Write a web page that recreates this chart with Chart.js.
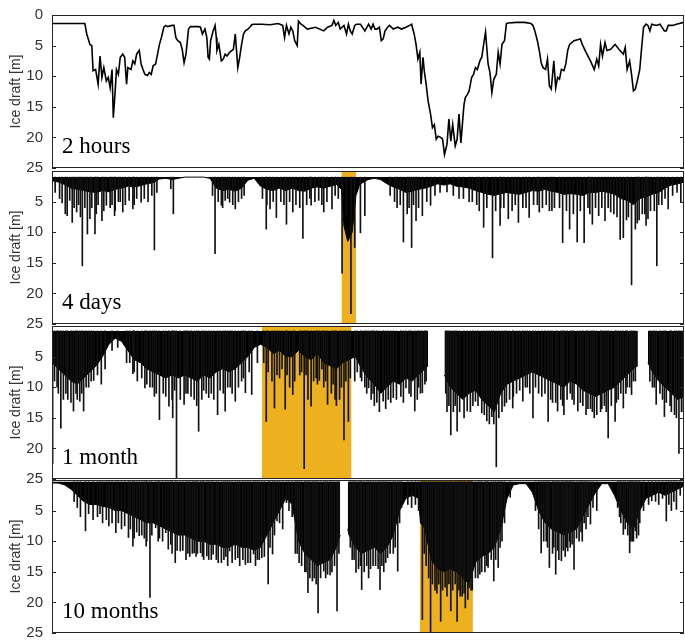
<!DOCTYPE html>
<html>
<head>
<meta charset="utf-8">
<title>Ice draft records</title>
<script src="https://cdn.jsdelivr.net/npm/chart.js@4.4.1/dist/chart.umd.min.js"></script>
<style>
  body { margin: 0; background: #fff; }
  #wrap { position: relative; width: 685px; height: 640px; overflow: hidden; }
  #wrap canvas { position: absolute; left: 0; }
</style>
</head>
<body>
<div id="wrap">
  <canvas id="p1" width="685"></canvas>
  <canvas id="p2" width="685"></canvas>
  <canvas id="p3" width="685"></canvas>
  <canvas id="p4" width="685"></canvas>
</div>
<script>
// --- data (x = % of record length, y = ice draft in m) ---
const yTicks = [0, 5, 10, 15, 20, 25];
const panelLabels = ['2 hours', '4 days', '1 month', '10 months'];

// highlighted sub-window shown in the panel above
const highlight4Days = [45.8, 48.1];
const highlight1Month = [33.2, 47.4];
const highlight10Months = [58.2, 66.6];

// draft where the dense records start
const surface4Days = 1.0;
const surface1Month = 0.8;
const surface10Months = 0.3;

const draftHours = [
  [0,1.4],[5.2,1.4],[5.5,3.1],[6.0,4.8],[6.3,5.0],[6.5,9.1],[6.9,8.9],[7.3,11.3],[7.6,6.7],[7.9,10.2],
  [8.2,8.6],[8.6,10.8],[8.9,10.2],[9.2,11.9],[9.5,8.9],[9.7,16.8],[10.0,12.4],[10.2,8.9],[10.5,9.7],[10.8,6.9],
  [11.2,6.4],[11.5,6.9],[11.8,11.3],[12.0,8.6],[12.5,8.9],[12.8,7.5],[13.1,8.0],[13.4,6.4],[13.8,5.8],[14.1,8.0],
  [14.4,8.9],[14.7,9.7],[15.1,9.9],[15.4,9.4],[15.7,9.7],[16.0,8.3],[16.4,8.0],[16.7,6.4],[17.0,4.8],[17.3,3.7],
  [17.7,2.0],[18.0,1.7],[18.3,1.9],[19.0,1.7],[19.3,1.7],[19.6,3.7],[19.9,4.2],[20.3,4.5],[20.6,5.6],[20.9,7.8],
  [21.2,6.4],[21.6,2.3],[21.9,1.9],[22.5,1.9],[23.2,1.9],[23.5,2.0],[23.8,3.1],[24.2,2.3],[24.5,3.7],[24.7,6.9],
  [24.9,7.2],[25.1,4.2],[25.5,2.6],[25.8,1.7],[26.0,3.7],[26.1,5.8],[26.4,4.8],[26.8,7.5],[27.1,7.2],[27.4,6.4],
  [27.7,6.7],[28.1,6.1],[28.7,5.6],[29.0,3.1],[29.4,8.6],[29.7,6.9],[30.0,4.8],[30.3,3.1],[30.6,2.6],[31.0,2.3],
  [31.3,2.0],[31.6,1.6],[31.9,1.5],[33.2,1.5],[34.5,1.6],[35.8,1.4],[36.5,1.7],[36.8,3.7],[37.1,1.7],[37.5,3.1],
  [37.8,2.0],[38.1,2.6],[38.4,4.2],[38.8,5.0],[39.0,1.0],[39.4,1.5],[39.7,1.7],[40.4,2.3],[41.7,2.0],[43.0,2.6],
  [43.6,2.0],[44.3,1.7],[44.6,0.9],[44.9,1.7],[45.3,1.2],[45.6,2.3],[46.2,1.7],[46.6,3.1],[46.9,1.5],[47.2,2.6],
  [47.5,3.1],[47.9,1.7],[48.2,1.5],[48.8,1.5],[49.5,2.6],[50.1,1.5],[50.5,2.3],[50.8,1.5],[51.1,2.3],[51.4,2.3],
  [51.8,2.0],[52.1,4.2],[52.4,3.9],[52.7,2.6],[53.1,2.0],[53.4,1.7],[54.0,2.3],[54.7,2.0],[55.3,2.3],[56.0,2.0],
  [56.6,1.7],[56.9,1.5],[57.3,3.1],[57.6,4.8],[57.9,7.2],[58.2,6.1],[58.4,11.3],[58.7,6.9],[58.9,9.1],[59.2,11.3],
  [59.5,14.0],[59.9,16.2],[60.2,18.4],[60.5,17.9],[60.8,20.3],[61.1,19.8],[61.5,20.0],[61.8,20.3],[62.1,22.8],[62.5,21.1],
  [62.8,17.0],[63.1,20.6],[63.4,17.9],[63.8,21.4],[64.1,20.3],[64.4,16.2],[64.7,20.9],[65.1,15.7],[65.2,14.6],[65.4,13.5],
  [65.7,13.0],[66.0,12.4],[66.4,10.2],[66.7,9.7],[67.0,8.6],[67.3,8.9],[67.7,7.5],[68.0,6.9],[68.3,4.8],[68.6,2.8],
  [69.0,8.0],[69.3,9.4],[69.6,12.7],[69.9,10.5],[70.3,9.7],[70.6,6.1],[70.9,8.0],[71.2,4.8],[71.6,4.2],[71.9,1.4],
  [72.2,1.3],[73.5,1.2],[74.8,1.2],[75.8,1.4],[76.1,1.7],[76.4,2.6],[76.8,4.2],[77.1,5.8],[77.4,7.8],[77.7,8.6],
  [78.1,8.9],[78.4,7.2],[78.7,11.6],[79.0,12.1],[79.4,7.5],[79.7,11.9],[80.0,10.2],[80.3,10.5],[80.6,8.9],[81.0,9.1],
  [81.3,8.0],[81.6,5.8],[81.9,4.8],[82.6,4.2],[83.6,3.9],[83.9,4.8],[84.5,6.1],[85.2,7.5],[85.8,8.9],[86.2,7.2],
  [86.5,8.3],[86.8,4.8],[87.1,6.7],[87.5,4.5],[87.8,5.8],[88.4,5.6],[89.1,4.8],[89.7,5.6],[90.4,6.4],[90.7,5.3],
  [91.0,8.9],[91.4,7.5],[91.7,9.7],[92.0,12.4],[92.3,12.1],[92.6,10.8],[93.0,8.9],[93.3,5.3],[93.6,2.0],[94.0,1.5],
  [94.3,1.7],[94.6,2.6],[94.9,1.5],[95.6,1.7],[96.2,1.5],[96.9,2.6],[97.2,2.6],[97.5,1.7],[98.2,1.7],[98.8,1.5],[100,1.2]
];

// dense core of the 4-day record and its deeper keels
const core4Days = [
  [0,1.6],[1,1.8],[2,2.2],[3,2.8],[4,3.0],[5,3.2],[6,3.4],[7,3.5],[8,3.2],[9,3.4],[10,3.0],[11,2.8],[12,2.5],
  [13,2.6],[14,2.4],[15,2.1],[16,1.9],[17,1.3],[18,1.2],[19,1.4],[20,1.2],[21,1.0],[22,1.0],[23,1.0],[24,1.0],
  [25,1.2],[26,2.8],[27,3.2],[28,3.0],[29,3.3],[30,2.8],[31,1.5],[32,1.2],[33,2.5],[34,3.0],[35,3.2],[36,2.8],
  [37,3.2],[38,2.8],[39,3.2],[40,3.3],[41,2.8],[42,2.6],[43,2.8],[44,2.5],[45,2.2],[45.8,3.0],[46.2,9.0],
  [46.8,11.5],[47.5,10.0],[48.1,4.0],[48.6,2.5],[49,2.0],[50,1.4],[51,1.2],[52,1.4],[53,2.1],[54,2.6],[55,3.0],
  [56,3.5],[57,3.3],[58,3.0],[59,2.8],[60,2.5],[61,2.1],[62,2.3],[63,2.1],[64,2.5],[65,2.6],[66,2.8],[67,3.2],
  [68,3.5],[69,3.8],[70,4.0],[71,3.7],[72,3.5],[73,3.7],[74,3.8],[75,3.5],[76,3.2],[77,3.3],[78,3.0],[79,3.3],
  [80,3.5],[81,3.8],[82,3.7],[83,3.8],[84,4.0],[85,3.5],[86,3.5],[87,3.3],[88,3.5],[89,3.8],[90,4.5],[91,4.8],
  [92,5.5],[93,4.5],[94,4.2],[95,3.8],[96,3.5],[97,2.8],[98,2.3],[99,2.1],[100,1.8]
];
const keels4Days = [
  [0.5,3.5],[1.2,4.5],[1.6,5.2],[2.1,7.0],[2.4,7.3],[2.8,4.8],[3.2,8.4],[3.5,6.0],[3.9,6.7],[4.2,5.5],[4.5,7.5],
  [4.8,15.5],[5.2,6.0],[5.6,10.3],[6.0,7.8],[6.3,6.0],[6.8,10.3],[7.0,7.0],[7.3,5.5],[7.9,8.1],[8.2,6.5],[8.6,5.6],
  [9.2,6.0],[9.5,5.5],[9.9,7.3],[10.0,6.5],[10.5,5.0],[10.8,5.0],[11.2,6.7],[11.6,5.5],[12.2,4.8],[12.8,6.2],[13.0,5.5],
  [13.4,4.5],[14.1,5.1],[14.6,4.5],[15.2,5.0],[15.8,4.0],[16.2,12.9],[16.6,3.5],[18.8,2.9],[19.2,7.0],[25.4,4.0],
  [25.8,13.5],[26.3,5.0],[26.8,5.6],[27.0,6.0],[27.4,4.8],[27.8,4.5],[28.1,5.1],[28.6,5.5],[29.0,6.2],[29.5,5.0],
  [30.0,4.5],[30.4,4.0],[33.3,4.5],[33.9,9.5],[34.0,5.5],[34.5,6.2],[35.0,5.0],[35.5,7.6],[36.2,5.0],[36.7,5.5],
  [37.1,8.7],[37.6,5.0],[38.1,6.7],[38.6,5.5],[39.2,6.0],[39.7,11.0],[40.3,5.5],[40.8,4.5],[41.0,5.6],[41.6,5.0],
  [42.2,4.8],[42.7,5.5],[43.0,6.7],[43.5,5.0],[44.3,6.2],[44.8,4.0],[45.3,4.5],[45.9,16.7],[46.6,7.3],[47.3,23.3],
  [47.9,12.5],[48.8,10.1],[49.5,7.3],[53.5,4.0],[54.2,5.0],[54.6,6.0],[55.1,5.5],[55.6,11.6],[56.2,7.0],[56.5,6.0],
  [56.9,12.5],[57.2,5.5],[57.6,8.1],[58.0,6.0],[58.6,7.3],[59.3,5.0],[59.9,5.6],[60.6,4.0],[61.4,3.5],[62.5,3.4],
  [63.5,4.0],[64.4,4.5],[65.1,4.5],[66.0,5.0],[66.5,5.0],[67.2,5.5],[67.6,6.5],[68.3,9.2],[68.8,6.0],[69.7,14.2],
  [70.2,6.5],[70.9,8.9],[71.0,6.0],[71.5,6.0],[72.2,7.8],[72.8,6.5],[73.3,5.5],[73.8,8.4],[74.5,6.0],[75.0,6.0],
  [75.5,7.6],[76.2,5.5],[76.8,5.5],[77.1,6.7],[77.6,6.0],[78.2,5.5],[78.7,6.5],[79.1,6.5],[79.5,6.0],[80.3,6.0],
  [80.8,11.7],[81.4,6.5],[81.9,9.5],[82.5,7.0],[83.1,11.6],[83.6,6.5],[84.2,11.7],[84.8,6.0],[85.1,7.0],[85.5,8.7],
  [86.0,6.0],[86.5,7.3],[87.0,6.0],[87.5,8.1],[88.0,6.0],[88.4,6.7],[88.9,7.0],[89.4,7.5],[89.9,11.2],[90.4,10.9],
  [90.9,8.0],[91.2,7.5],[91.7,18.6],[92.3,9.5],[92.6,8.5],[92.9,8.0],[93.4,7.0],[93.8,7.0],[94.0,8.9],[94.3,7.8],
  [94.7,6.5],[95.3,6.5],[95.7,15.5],[96.0,5.5],[96.5,5.5],[97.0,4.5],[97.5,6.2],[98.2,4.0],[98.9,3.5],[99.5,5.1]
];

const core1Month = [
  [0,6.0],[1,7.0],[2,8.0],[3,9.0],[4,9.5],[5,8.5],[6,7.5],[7,6.5],[8,5.0],[9,3.0],[10,2.0],[11,2.5],[12,4.0],
  [13,5.5],[14,6.0],[15,7.0],[16,7.5],[17,8.0],[18,8.5],[19,8.0],[20,8.5],[21,8.0],[22,8.5],[23,9.0],[24,8.0],
  [25,8.5],[26,7.5],[27,7.0],[28,7.5],[29,7.0],[30,6.0],[31,5.0],[32,3.5],[33,3.0],[34,3.5],[35,4.5],[36,4.0],
  [37,5.0],[38,5.0],[39,4.0],[40,5.0],[41,5.5],[42,4.5],[43,6.0],[44,6.5],[45,7.0],[46,6.0],[47,5.5],[48,5.0],
  [49,7.0],[50,8.5],[51,9.5],[52,11.0],[53,10.0],[54,9.0],[55,9.5],[56,8.5],[57,9.0],[58,8.0],[59,7.0],[59.5,6.5],
  [60.8,null],[62.1,8.0],[63,10.0],[64,11.0],[65,12.0],[66,11.0],[67,10.5],[68,12.0],[69,13.0],[70,14.0],[71,11.0],
  [72,9.5],[73,9.0],[74,8.5],[75,8.0],[76,7.5],[77,8.0],[78,8.5],[79,9.0],[80,9.5],[81,10.0],[82,9.0],[83,9.5],
  [84,10.5],[85,11.0],[86,11.5],[87,11.0],[88,10.5],[89,10.0],[90,9.0],[91,8.0],[92,7.0],[92.7,6.5],[93.5,null],
  [94.3,6.0],[95,7.5],[96,9.0],[97,10.0],[98,11.0],[99,12.0],[100,11.5]
];
const keels1Month = [
  [0.1,22.5],[0.4,9.0],[0.8,10.0],[1.0,11.0],[1.4,16.7],[1.8,12.0],[2.2,11.0],[2.5,12.0],[3.0,12.5],[3.4,13.9],
  [3.8,11.0],[4.0,12.0],[4.4,12.3],[4.7,11.0],[5.0,13.9],[5.4,10.0],[5.8,10.0],[6.2,9.0],[6.6,8.9],[7.2,8.0],
  [7.8,9.5],[8.4,7.0],[9.5,4.0],[10.4,3.5],[11.8,6.0],[12.3,6.0],[12.8,7.8],[13.0,7.5],[13.5,9.0],[14.2,8.5],
  [14.7,10.1],[15.0,9.5],[15.5,10.0],[15.9,10.0],[16.2,11.5],[16.5,11.0],[17.0,15.3],[17.6,11.0],[18.0,11.5],[18.5,13.1],
  [19.0,12.0],[19.1,15.0],[19.4,10.5],[19.7,25.0],[20.3,12.0],[20.9,12.8],[21.2,11.0],[21.5,11.0],[22.0,11.5],[22.5,12.0],
  [22.9,13.0],[23.2,17.2],[23.7,12.0],[24.0,10.5],[24.4,11.0],[24.8,11.7],[25.2,11.0],[25.6,12.0],[26.2,14.5],[26.6,10.5],
  [27.1,11.0],[27.4,13.9],[27.8,10.0],[28.2,10.0],[28.5,11.0],[29.0,12.3],[29.5,10.0],[30.0,9.0],[30.3,8.5],[30.6,10.9],
  [31.2,7.5],[31.6,11.2],[32.5,6.0],[33.5,6.0],[33.9,15.6],[34.2,7.5],[34.8,9.0],[35.2,13.4],[35.6,8.0],[36.0,8.5],
  [36.4,7.0],[36.9,13.6],[37.2,8.0],[37.6,10.0],[38.1,11.2],[38.4,9.0],[39.2,8.0],[39.5,7.5],[39.9,23.3],[40.2,8.0],
  [40.5,12.0],[41.0,13.1],[41.4,9.0],[41.8,8.5],[42.0,9.5],[42.3,8.9],[42.7,7.0],[43.0,10.0],[43.3,9.0],[43.6,12.8],
  [44.2,11.0],[44.5,9.5],[44.8,12.0],[45.0,13.0],[45.5,12.0],[45.8,10.0],[46.2,18.6],[46.5,9.0],[46.9,15.6],[47.2,8.5],
  [47.9,9.0],[48.3,7.5],[48.8,8.4],[49.0,9.0],[49.5,10.0],[49.8,11.0],[50.1,10.1],[50.5,12.0],[50.8,11.0],[51.0,13.0],
  [51.4,12.5],[51.8,14.0],[52.4,12.3],[52.8,13.5],[53.2,12.0],[53.6,12.5],[54.0,11.7],[54.5,12.0],[55.2,11.5],[55.6,12.5],
  [56.0,10.1],[56.5,11.0],[56.8,11.5],[57.4,13.9],[57.8,12.0],[58.0,10.0],[58.3,11.0],[58.6,10.9],[59.0,9.5],[59.2,9.0],
  [62.3,11.0],[62.5,14.0],[62.8,13.0],[63.1,17.8],[63.5,14.0],[63.8,13.0],[64.1,17.2],[64.5,14.0],[65.2,15.0],[65.7,13.9],
  [66.2,14.0],[66.6,13.0],[67.0,12.3],[67.4,13.0],[68.0,14.2],[68.4,14.5],[68.8,15.5],[69.2,16.0],[69.6,14.8],[69.9,16.0],
  [70.3,23.0],[70.7,15.0],[71.2,14.0],[71.6,13.1],[71.9,12.5],[72.4,12.0],[72.9,13.4],[73.0,11.5],[73.5,11.0],[74.0,10.5],
  [74.5,12.3],[74.9,10.0],[75.2,10.0],[75.6,11.0],[76.1,15.0],[76.5,10.0],[77.0,11.0],[77.5,11.5],[78.0,11.0],[78.5,15.6],
  [78.9,12.0],[79.2,12.5],[79.7,12.5],[80.0,13.9],[80.5,12.0],[80.8,13.0],[81.0,14.5],[81.5,12.0],[82.0,11.0],[82.3,12.0],
  [82.6,12.8],[83.2,13.9],[83.6,12.5],[84.0,13.0],[84.5,14.5],[84.8,13.5],[85.2,13.5],[85.5,14.0],[85.8,15.0],[86.2,14.5],
  [86.8,14.0],[87.0,13.5],[87.4,13.0],[87.7,14.0],[88.0,18.3],[88.5,13.0],[89.1,15.6],[89.3,12.5],[89.6,12.0],[90.0,11.0],
  [90.4,13.4],[90.8,11.0],[91.0,10.0],[91.4,10.0],[91.7,11.2],[92.0,9.0],[92.3,9.0],[94.6,9.0],[95.0,10.0],[95.3,10.0],
  [95.6,12.8],[96.2,11.0],[96.6,12.0],[96.9,14.8],[97.2,12.5],[97.8,13.0],[98.0,14.0],[98.5,14.5],[98.8,15.0],[99.2,20.8],
  [99.6,14.0],[99.9,14.0]
];

const core10Months = [
  [0,0.5],[1,0.5],[2,0.8],[3,1.5],[4,2.5],[5,3.5],[6,4.0],[7,4.0],[8,4.3],[9,4.5],[10,5.0],[11,5.0],[12,5.5],
  [13,6.0],[14,6.5],[15,7.0],[16,7.0],[17,7.5],[18,8.0],[19,8.5],[20,9.0],[21,9.0],[22,9.5],[23,10.0],[24,10.0],
  [25,10.5],[26,10.5],[27,11.0],[28,11.0],[29,10.5],[30,11.0],[31,11.0],[32,11.5],[33,11.0],[34,9.0],[35,7.0],
  [36,5.0],[37,3.0],[38,4.0],[39,10.0],[40,12.0],[41,13.0],[42,14.0],[43,13.5],[44,13.0],[45,11.0],[45.6,9.0],
  [46.2,null],[46.8,8.0],[47,9.0],[48,11.0],[49,12.0],[50,11.5],[51,11.0],[52,12.0],[53,11.0],[54,9.0],[55,5.0],
  [56,3.0],[57,2.5],[58,3.0],[58.3,7.0],[59,8.0],[60,13.0],[61,14.5],[62,15.0],[63,14.5],[64,15.0],[65,16.0],
  [66,17.0],[67,13.5],[68,12.5],[69,12.0],[70,11.0],[71,8.0],[72,3.0],[73,0.8],[74,0.6],[75,0.6],[76,2.0],[77,5.0],
  [78,7.0],[79,8.0],[80,8.5],[81,9.0],[82,8.5],[83,8.0],[84,6.0],[85,4.0],[86,2.0],[87,0.6],[88,0.6],[89,2.5],
  [90,5.0],[91,7.0],[92,8.0],[93,5.0],[94,3.0],[95,2.5],[96,2.0],[97,2.5],[98,2.0],[99,1.5],[100,1.0]
];
const keels10Months = [
  [3.5,3.5],[4.0,4.5],[4.5,6.0],[5.3,8.3],[5.8,5.5],[6.5,6.5],[7.2,6.0],[7.6,5.5],[8.0,7.0],[8.6,6.5],[9.0,7.5],
  [9.5,7.0],[10.1,8.6],[10.5,7.0],[11.0,8.0],[11.5,7.5],[12.1,9.4],[12.4,8.0],[12.8,10.8],[13.0,9.5],[13.4,8.5],
  [13.8,9.1],[14.2,9.0],[14.6,9.5],[14.9,10.8],[15.0,10.0],[15.5,19.2],[15.8,9.0],[16.4,7.8],[16.8,10.0],[17.0,9.5],
  [17.5,10.0],[18.0,8.6],[18.4,11.3],[18.8,10.5],[19.0,12.0],[19.5,13.5],[19.8,11.5],[20.3,11.6],[20.7,11.5],[21.2,13.0],
  [21.5,12.0],[21.8,12.5],[22.2,12.0],[22.5,11.9],[22.8,12.5],[23.0,12.0],[23.5,11.9],[23.8,12.5],[24.0,13.0],[24.5,12.4],
  [24.8,13.0],[25.2,13.0],[25.5,12.1],[26.0,13.0],[26.3,13.5],[26.8,13.5],[27.2,13.0],[27.5,12.5],[27.8,14.0],[28.1,11.6],
  [28.5,13.5],[29.0,13.0],[29.4,12.7],[29.7,14.0],[30.2,13.0],[30.6,13.8],[31.0,13.5],[31.4,13.5],[31.9,12.1],[32.2,14.0],
  [32.5,13.0],[32.8,13.0],[33.2,12.7],[33.6,12.5],[34.2,17.0],[34.5,11.0],[34.9,12.1],[35.2,9.0],[35.6,6.7],[36.0,7.0],
  [36.5,8.0],[37.1,3.7],[37.5,5.0],[38.0,6.0],[38.5,12.0],[38.8,12.0],[39.1,13.5],[39.5,14.0],[40.0,15.0],[40.2,15.0],
  [40.5,18.4],[40.8,16.0],[41.2,16.5],[41.5,16.0],[41.8,17.0],[42.1,21.7],[42.5,16.0],[43.0,14.9],[43.3,16.0],[43.6,15.4],
  [44.0,15.5],[44.3,15.0],[44.7,14.0],[45.1,21.4],[45.4,12.0],[47.2,11.0],[47.5,13.0],[47.8,13.0],[48.1,15.1],[48.5,14.5],
  [48.8,14.0],[49.0,17.9],[49.4,15.0],[49.8,14.0],[50.1,16.0],[50.4,14.5],[50.8,14.0],[51.2,14.0],[51.6,14.5],[51.9,17.9],
  [52.2,14.0],[52.5,15.0],[52.8,13.5],[53.1,12.7],[53.5,12.0],[54.0,12.0],[54.3,11.0],[54.7,14.9],[55.0,7.0],[55.3,4.5],
  [56.3,4.0],[56.9,4.5],[57.5,4.0],[58.0,5.0],[58.6,22.8],[58.9,12.0],[59.2,14.0],[59.6,16.0],[59.9,25.0],[60.2,17.0],
  [60.6,18.0],[60.9,18.5],[61.2,17.0],[61.5,23.1],[61.8,18.0],[62.2,17.5],[62.5,19.0],[62.8,17.0],[63.1,21.4],[63.4,18.0],
  [63.8,17.0],[64.1,23.1],[64.4,18.0],[64.6,19.0],[64.9,19.0],[65.2,18.5],[65.4,20.9],[65.8,19.5],[66.0,17.6],[66.3,18.0],
  [66.5,18.0],[67.0,16.0],[67.4,16.0],[67.7,15.4],[68.0,15.0],[68.5,15.0],[68.8,14.0],[69.0,14.3],[69.5,13.0],[69.9,16.5],
  [70.2,13.0],[70.6,14.3],[70.9,11.0],[71.2,10.0],[71.6,7.0],[72.5,2.8],[76.5,5.0],[77.0,8.0],[77.4,11.9],[77.8,10.0],
  [78.2,10.0],[78.4,11.0],[78.7,14.3],[79.2,12.0],[79.4,11.0],[79.7,15.4],[80.0,11.5],[80.2,13.0],[80.6,13.2],[80.9,11.5],
  [81.2,12.5],[81.4,11.0],[81.6,11.6],[81.9,10.0],[82.0,11.0],[82.3,10.5],[82.6,14.6],[83.0,9.5],[83.4,10.0],[83.7,8.5],
  [83.9,10.0],[84.2,7.0],[84.5,8.0],[84.8,6.0],[85.2,7.2],[85.6,4.5],[86.2,5.0],[89.5,4.5],[89.8,6.0],[90.0,7.0],
  [90.4,8.9],[90.7,8.0],[91.1,9.0],[91.4,11.9],[91.6,10.0],[91.8,10.0],[92.0,10.0],[92.3,8.3],[92.5,9.5],[92.8,9.0],
  [93.0,7.0],[93.6,5.0],[94.4,4.0],[94.9,3.4],[95.5,3.5],[96.0,4.0],[96.6,3.0],[97.2,6.7],[97.6,4.0],[98.0,5.0],
  [98.4,3.5],[98.8,4.8],[99.4,2.5]
];

// --- styling / layout ---
const ORANGE = '#EDB120';
const INK = '#262626';
const SANS = '"Liberation Sans", Arial, sans-serif';
const SERIF = '"Liberation Serif", "Times New Roman", serif';
const plotAreas = [[15, 168], [171, 324], [326, 479], [480, 633]];
const PAD = 20;

const toPoints = arr => arr.map(([x, y]) => ({ x, y }));

function highlightSet(range) {
    return {
        type: 'line',
        data: [{ x: range[0], y: 25 }, { x: range[1], y: 25 }],
        borderWidth: 0,
        pointRadius: 0,
        backgroundColor: ORANGE,
        fill: { value: 0 },
        order: 3
    };
}

function coreSet(core, surface) {
    return {
        type: 'line',
        data: toPoints(core),
        borderColor: '#000',
        borderWidth: 1,
        pointRadius: 0,
        tension: 0,
        spanGaps: false,
        backgroundColor: '#000',
        fill: { value: surface },
        order: 2
    };
}

function keelSet(keels, surface) {
    return {
        type: 'bar',
        data: keels.map(([x, d]) => ({ x, y: [surface, d] })),
        backgroundColor: '#111',
        borderWidth: 0,
        barThickness: 1,
        grouped: false,
        order: 1
    };
}

// рамка, внутренние засечки и подпись панели
const framePlugin = {
    id: 'frame',
    afterDraw(chart, args, opts) {
        const { ctx, chartArea: a, scales: { y } } = chart;
        ctx.save();
        ctx.strokeStyle = INK;
        ctx.lineWidth = 1;
        ctx.strokeRect(a.left + 0.5, a.top + 0.5, a.right - a.left - 1, a.bottom - a.top - 1);
        ctx.beginPath();
        yTicks.forEach(v => {
            const py = Math.round(y.getPixelForValue(v)) + 0.5;
            ctx.moveTo(a.left, py); ctx.lineTo(a.left + 4, py);
            ctx.moveTo(a.right, py); ctx.lineTo(a.right - 4, py);
        });
        ctx.stroke();
        ctx.fillStyle = '#000';
        ctx.font = '23px ' + SERIF;
        ctx.textBaseline = 'alphabetic';
        ctx.fillText(opts.text, a.left + 10, a.bottom - 15);
        ctx.restore();
    }
};

function makePanel(i, datasets) {
    const [top, bottom] = plotAreas[i];
    const canvas = document.getElementById('p' + (i + 1));
    canvas.height = bottom - top + 2 * PAD;
    canvas.style.top = (top - PAD) + 'px';
    const hideZero = i > 0;

    new Chart(canvas, {
        type: 'line',
        data: { datasets },
        options: {
            responsive: false,
            animation: false,
            events: [],
            layout: { padding: { top: PAD, bottom: PAD, left: 0, right: 1 } },
            plugins: {
                legend: { display: false },
                tooltip: { enabled: false },
                frame: { text: panelLabels[i] }
            },
            scales: {
                x: { type: 'linear', min: 0, max: 100, display: false, offset: false, grid: { offset: false } },
                y: {
                    type: 'linear',
                    reverse: true,
                    min: 0,
                    max: 25,
                    afterFit(s) { s.width = 52; },
                    afterBuildTicks(s) {
                        s.ticks = yTicks.filter(v => !(hideZero && v === 0)).map(v => ({ value: v }));
                    },
                    grid: { display: false, drawTicks: false },
                    border: { display: false },
                    ticks: { padding: 9, color: '#333', font: { family: SANS, size: 15 } },
                    title: {
                        display: true,
                        text: 'Ice draft [m]',
                        color: '#333',
                        font: { family: SANS, size: 14 },
                        padding: { top: 8, bottom: 0 }
                    }
                }
            }
        },
        plugins: [framePlugin]
    });
}

document.addEventListener('DOMContentLoaded', () => {
    makePanel(0, [{
        type: 'line',
        data: toPoints(draftHours),
        borderColor: '#000',
        borderWidth: 1.6,
        pointRadius: 0,
        tension: 0,
        fill: false
    }]);
    makePanel(1, [highlightSet(highlight4Days), coreSet(core4Days, surface4Days), keelSet(keels4Days, surface4Days)]);
    makePanel(2, [highlightSet(highlight1Month), coreSet(core1Month, surface1Month), keelSet(keels1Month, surface1Month)]);
    makePanel(3, [highlightSet(highlight10Months), coreSet(core10Months, surface10Months), keelSet(keels10Months, surface10Months)]);
});
</script>
</body>
</html>
